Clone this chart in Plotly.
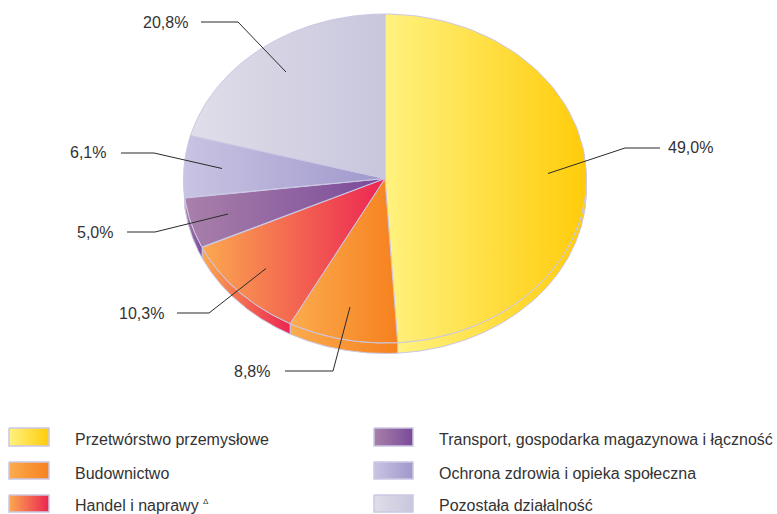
import numpy as np
import plotly.graph_objects as go

categories = ["Przetwórstwo przemysłowe", "Budownictwo", "Handel i naprawy",
              "Transport, gospodarka magazynowa i łączność",
              "Ochrona zdrowia i opieka społeczna", "Pozostała działalność"]
values = [49.0, 8.8, 10.3, 5.0, 6.1, 20.8]
value_labels = ["49,0%", "8,8%", "10,3%", "5,0%", "6,1%", "20,8%"]
grad_start = ["#FFF27F", "#FBAB4F", "#FBA94F", "#A880A9", "#C9C4E3", "#E0DEE9"]
grad_stop = ["#FFCC0A", "#F6811E", "#EC2453", "#7A4A9A", "#9F98CC", "#C8C6DC"]

CX, CY, RX, RY, DEPTH = 385, 178.5, 201.5, 164.5, 10.5
EDGE = "#CBC8E4"
LEAD = "#2b2b2b"
TXT = "#333333"
FONT = "Liberation Sans"

# leader lines: anchor on slice -> elbow -> end beside the label (pixel layout)
leaders = [[(548, 173.5), (625, 148), (660, 148)],
           [(350, 307), (333, 371), (285, 371)],
           [(266, 268.5), (209, 313), (177, 313)],
           [(228, 214), (155, 232), (127, 232)],
           [(222, 168.5), (154, 153), (121, 153)],
           [(286, 72), (238, 22), (201, 22)]]
label_pos = [(668, 147, "left"), (270, 371, "right"), (164, 313, "right"),
             (113, 232, "right"), (106, 152, "right"), (188, 22, "right")]

fig = go.Figure()


def poly(xs, ys, c0, c1, lw=1.0):
    xs, ys = np.asarray(xs, float), np.asarray(ys, float)
    fig.add_trace(go.Scatter(
        x=xs, y=ys, mode="lines", fill="toself",
        line=dict(color=EDGE, width=lw),
        fillgradient=dict(type="horizontal", start=float(xs.min()), stop=float(xs.max()),
                          colorscale=[[0, c0], [1, c1]]),
        hoverinfo="skip", showlegend=False))


def arc(a0, a1):
    t = np.radians(np.linspace(a0, a1, 90))
    return CX + RX * np.sin(t), CY - RY * np.cos(t)


bounds = np.concatenate([[0], np.cumsum(values)]) / sum(values) * 360

# side wall (front half of the rim only)
for i in range(len(values)):
    a0, a1 = max(bounds[i], 90), min(bounds[i + 1], 270)
    if a1 <= a0:
        continue
    ax, ay = arc(a0, a1)
    poly(np.r_[ax, ax[::-1], ax[0]], np.r_[ay, ay[::-1] + DEPTH, ay[0]],
         grad_start[i], grad_stop[i])

# top face
for i in range(len(values)):
    ax, ay = arc(bounds[i], bounds[i + 1])
    poly(np.r_[CX, ax, CX], np.r_[CY, ay, CY], grad_start[i], grad_stop[i])

# leader lines
for pts in leaders:
    fig.add_trace(go.Scatter(x=[p[0] for p in pts], y=[p[1] for p in pts], mode="lines",
                             line=dict(color=LEAD, width=1), hoverinfo="skip", showlegend=False))

annotations = []
for lab, (x, y, anc) in zip(value_labels, label_pos):
    annotations.append(dict(x=x, y=y, text=lab, xref="x", yref="y", xanchor=anc, yanchor="middle",
                            showarrow=False, font=dict(family=FONT, size=16, color=TXT),
                            borderpad=0, borderwidth=0))

# hand-placed two-column legend
leg_x = [(9, 49, 75), (374, 413, 439)]
leg_y = [(428, 446, 439), (462, 479, 473), (495, 512, 505)]
for i, cat in enumerate(categories):
    x0, x1, tx = leg_x[i // 3]
    y0, y1, ty = leg_y[i % 3]
    poly([x0, x1, x1, x0, x0], [y0, y0, y1, y1, y0], grad_start[i], grad_stop[i], lw=1.5)
    annotations.append(dict(x=tx, y=ty, text=cat, xref="x", yref="y", xanchor="left", yanchor="middle",
                            showarrow=False, font=dict(family=FONT, size=16, color=TXT),
                            borderpad=0, borderwidth=0))

# small delta mark after "Handel i naprawy"
annotations.append(dict(x=205.5, y=501, text="Δ", xref="x", yref="y", xanchor="center", yanchor="middle",
                        showarrow=False, font=dict(family=FONT, size=8, color=TXT),
                        borderpad=0, borderwidth=0))

fig.update_layout(
    width=777, height=514, margin=dict(l=0, r=0, t=0, b=0),
    paper_bgcolor="white", plot_bgcolor="white", showlegend=False,
    xaxis=dict(range=[0, 777], visible=False, fixedrange=True),
    yaxis=dict(range=[514, 0], visible=False, fixedrange=True),
    annotations=annotations)
fig.write_html("out.html", config=dict(displayModeBar=False),
               post_script="document.body.style.margin='0';document.documentElement.style.overflow='hidden';")
